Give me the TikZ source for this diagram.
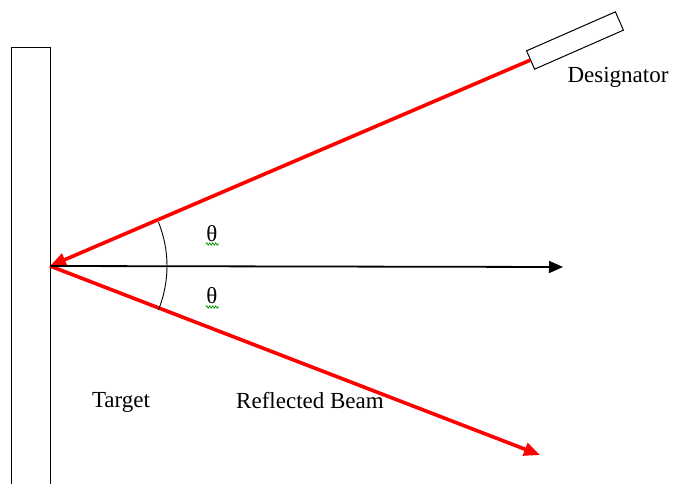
\documentclass[tikz,border=0pt]{standalone}
\usepackage{fontspec}
\setmainfont{Liberation Serif}
\usetikzlibrary{arrows.meta,decorations.pathmorphing}
\begin{document}
\begin{tikzpicture}[x=1pt,y=-1pt,
  beam/.style={draw=red,line width=3.6pt},
  redhead/.style={-{Triangle[length=16pt,width=13pt]}},
  axis/.style={draw=black,line width=1.8pt,-{Triangle[length=14pt,width=12pt]}},
  lbl/.style={font=\fontsize{23}{26}\selectfont,inner sep=0pt},
  squig/.style={draw=green!60!black,line width=0.7pt,decorate,decoration={zigzag,amplitude=1.2pt,segment length=3pt}}]
\useasboundingbox (0,0) rectangle (673,484);
% target bar
\node[draw=black,line width=1.2pt,minimum width=39pt,minimum height=460pt,anchor=north west,inner sep=0pt] (target) at (11,47) {};
\coordinate (refl) at (50,266);
% designator
\node[draw=black,line width=1pt,fill=white,minimum width=97pt,minimum height=20pt,rotate=23.7,inner sep=0pt] (des) at (575,40.5) {};
% beams
\draw[beam,redhead] (des.west) -- (refl);
\coordinate (rend) at (540,455);
\draw[beam,redhead] (refl) -- (rend);
\coordinate (aend) at (563,267);
\draw[axis] (refl) -- (aend);
% angle arc
\draw[line width=0.9pt] ([shift={(refl)}] 22:117) arc[start angle=-22,end angle=22,radius=117pt];
% theta labels
\node[lbl] (th1) at (212,234) {θ};
\node[lbl] (th2) at (212,296) {θ};
\draw[squig] (206,244) -- (219,244);
\draw[squig] (206,307) -- (219,307);
% text labels
\node[lbl] (dlab) at (618,77) {Designator};
\node[lbl] (tlab) at (121,402) {Target};
\node[lbl] (rlab) at (310,401) {Reflected Beam};
\end{tikzpicture}
\end{document}
